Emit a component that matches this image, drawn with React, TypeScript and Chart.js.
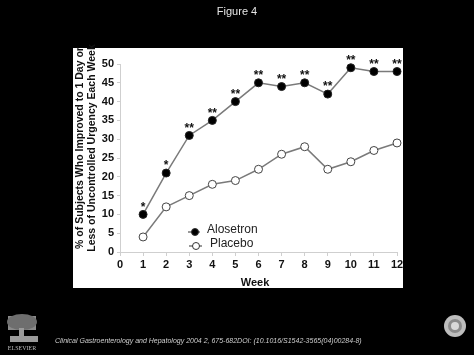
import React, { useEffect, useRef } from "react";
import { Chart, registerables } from "chart.js";

Chart.register(...registerables);

const weeks = [1, 2, 3, 4, 5, 6, 7, 8, 9, 10, 11, 12];
const alosetron = [10, 21, 31, 35, 40, 45, 44, 45, 42, 49, 48, 48];
const placebo = [4, 12, 15, 18, 19, 22, 26, 28, 22, 24, 27, 29];
const significance = ["*", "*", "**", "**", "**", "**", "**", "**", "**", "**", "**", "**"];
const seriesNames = ["Alosetron", "Placebo"];
const yTitleLines = ["% of Subjects Who Improved to 1 Day or", "Less of Uncontrolled Urgency Each Week"];
const xTitle = "Week";
const figureTitle = "Figure 4";
const citation =
  "Clinical Gastroenterology and Hepatology 2004 2, 675-682DOI: (10.1016/S1542-3565(04)00284-8)";

const FONT = "'Liberation Sans', Arial, Helvetica, sans-serif";

const pagePlugin = {
  id: "page",
  beforeDraw(chart: any) {
    const { ctx, width, height, chartArea } = chart;
    ctx.save();
    ctx.fillStyle = "#000";
    ctx.fillRect(0, 0, width, height);
    // white panel
    ctx.fillStyle = "#fff";
    ctx.fillRect(chartArea.left - 47, chartArea.top - 16, 330, 240);
    // figure title
    ctx.fillStyle = "#e6e6e6";
    ctx.font = `11px ${FONT}`;
    ctx.textAlign = "center";
    ctx.textBaseline = "middle";
    ctx.fillText(figureTitle, width / 2, 12);
    // citation
    ctx.fillStyle = "#cfcfcf";
    ctx.font = `italic 7px ${FONT}`;
    ctx.textAlign = "left";
    ctx.fillText(citation, 55, 341);
    // Elsevier logo (approximation)
    ctx.fillStyle = "#8a8a8a";
    ctx.fillRect(8, 316, 28, 14);
    ctx.fillStyle = "#6e6e6e";
    ctx.beginPath();
    ctx.ellipse(22, 322, 15, 8, 0, 0, Math.PI * 2);
    ctx.fill();
    ctx.fillStyle = "#9a9a9a";
    ctx.fillRect(19, 328, 5, 10);
    ctx.fillRect(10, 336, 28, 6);
    ctx.fillStyle = "#bbb";
    ctx.font = `6px 'Liberation Serif', serif`;
    ctx.textAlign = "center";
    ctx.fillText("ELSEVIER", 22, 348);
    // round seal
    ctx.fillStyle = "#bdbdbd";
    ctx.beginPath();
    ctx.arc(455, 326, 11, 0, Math.PI * 2);
    ctx.fill();
    ctx.fillStyle = "#8a8a8a";
    ctx.beginPath();
    ctx.arc(455, 326, 7, 0, Math.PI * 2);
    ctx.fill();
    ctx.fillStyle = "#d8d8d8";
    ctx.beginPath();
    ctx.arc(455, 326, 4, 0, Math.PI * 2);
    ctx.fill();
    ctx.restore();
  },
  afterDraw(chart: any) {
    const { ctx, chartArea } = chart;
    ctx.save();
    ctx.fillStyle = "#111";
    // y-axis title (two rotated lines)
    ctx.font = `bold 10.5px ${FONT}`;
    ctx.textAlign = "center";
    ctx.textBaseline = "middle";
    const cy = (chartArea.top + chartArea.bottom) / 2 - 10;
    ctx.translate(chartArea.left - 40, cy);
    ctx.rotate(-Math.PI / 2);
    ctx.fillText(yTitleLines[0], 0, 0);
    ctx.fillText(yTitleLines[1], 0, 12);
    ctx.restore();
    ctx.save();
    ctx.fillStyle = "#111";
    ctx.font = `bold 11px ${FONT}`;
    ctx.textAlign = "center";
    ctx.textBaseline = "middle";
    ctx.fillText(xTitle, chartArea.left + 135, chartArea.bottom + 31);
    // legend
    const lx = chartArea.left + 68;
    const rows = [
      { y: chartArea.bottom - 20, fill: "#000", name: seriesNames[0], tx: lx + 19 },
      { y: chartArea.bottom - 6, fill: "#fff", name: seriesNames[1], tx: lx + 22 },
    ];
    rows.forEach((r, i) => {
      ctx.strokeStyle = "#555";
      ctx.lineWidth = 1.2;
      ctx.beginPath();
      ctx.moveTo(lx + (i ? 1 : 0), r.y);
      ctx.lineTo(lx + (i ? 14 : 12), r.y);
      ctx.stroke();
      ctx.beginPath();
      ctx.arc(lx + (i ? 8 : 7), r.y, 3.5, 0, Math.PI * 2);
      ctx.fillStyle = r.fill;
      ctx.fill();
      ctx.strokeStyle = "#333";
      ctx.lineWidth = 1;
      ctx.stroke();
      ctx.fillStyle = "#222";
      ctx.font = `12px ${FONT}`;
      ctx.textAlign = "left";
      ctx.fillText(r.name, r.tx, r.y - 2);
    });
    ctx.restore();
  },
  afterDatasetsDraw(chart: any) {
    const { ctx } = chart;
    const meta = chart.getDatasetMeta(0);
    ctx.save();
    ctx.fillStyle = "#111";
    ctx.font = `bold 12px ${FONT}`;
    ctx.textAlign = "center";
    ctx.textBaseline = "middle";
    meta.data.forEach((pt: any, i: number) => {
      ctx.fillText(significance[i], pt.x, pt.y - 7);
    });
    ctx.restore();
  },
};

export default function App() {
  const ref = useRef<HTMLCanvasElement>(null);
  useEffect(() => {
    if (!ref.current) return;
    const chart = new Chart(ref.current, {
      type: "line",
      data: {
        datasets: [
          {
            label: seriesNames[0],
            data: weeks.map((w, i) => ({ x: w, y: alosetron[i] })),
            borderColor: "#7a7a7a",
            borderWidth: 1.5,
            pointRadius: 4,
            pointBackgroundColor: "#000",
            pointBorderColor: "#222",
            pointBorderWidth: 1,
            tension: 0,
            clip: false,
          },
          {
            label: seriesNames[1],
            data: weeks.map((w, i) => ({ x: w, y: placebo[i] })),
            borderColor: "#7a7a7a",
            borderWidth: 1.5,
            pointRadius: 4,
            pointBackgroundColor: "#fff",
            pointBorderColor: "#444",
            pointBorderWidth: 1,
            tension: 0,
            clip: false,
          },
        ],
      },
      options: {
        animation: false,
        responsive: false,
        layout: { padding: { left: 0, right: 77, top: 64, bottom: 0 } },
        plugins: { legend: { display: false }, tooltip: { enabled: false } },
        scales: {
          x: {
            type: "linear",
            min: 0,
            max: 12,
            afterFit: (s: any) => {
              s.height = 103;
            },
            ticks: {
              stepSize: 1,
              color: "#111",
              font: { family: FONT, size: 11, weight: "bold" },
              padding: 2,
            },
            grid: { drawOnChartArea: false, drawTicks: true, tickLength: 4, color: "#cfcfcf" },
            border: { color: "#cfcfcf", width: 1 },
          },
          y: {
            min: 0,
            max: 50,
            afterFit: (s: any) => {
              s.width = 120;
            },
            ticks: {
              stepSize: 5,
              color: "#111",
              font: { family: FONT, size: 11, weight: "bold" },
              padding: 3,
            },
            grid: { drawOnChartArea: false, drawTicks: true, tickLength: 3, color: "#cfcfcf" },
            border: { color: "#cfcfcf", width: 1 },
          },
        },
      },
      plugins: [pagePlugin],
    });
    return () => chart.destroy();
  }, []);
  return (
    <div style={{ position: "fixed", left: 0, top: 0, width: 474, height: 355, background: "#000" }}>
      <canvas ref={ref} width={474} height={355} style={{ display: "block" }} />
    </div>
  );
}
